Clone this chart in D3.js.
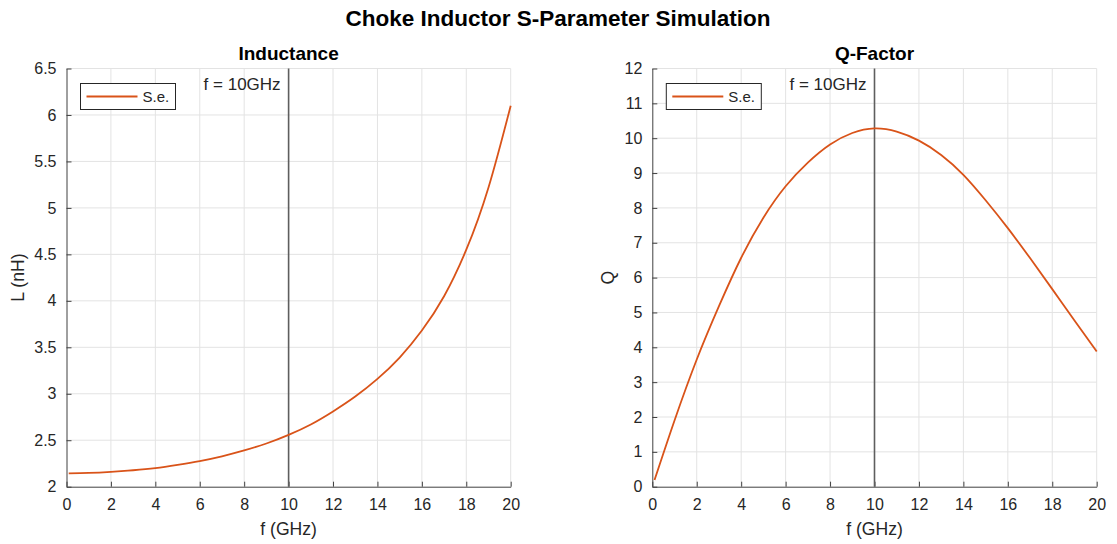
<!DOCTYPE html>
<html>
<head>
<meta charset="utf-8">
<script src="https://cdn.jsdelivr.net/npm/d3@7"></script>
<style>
  body { margin: 0; background: #fff; }
  svg { font-family: "Liberation Sans", Arial, Helvetica, sans-serif; }
  .tick text { fill: #262626; font-size: 16px; }
  .domain, .tick line { stroke: #404040; }
</style>
</head>
<body>
<div id="chart"></div>
<script>
// frequency points (GHz)
const freq = [0.1, 1, 2, 3, 4, 5, 6, 7, 8, 9, 10, 11, 12, 13, 14, 15, 16, 17, 18, 19, 20];
// inductance (nH)
const inductance = [2.143, 2.148, 2.16, 2.177, 2.2, 2.235, 2.276, 2.327, 2.39, 2.465, 2.558,
  2.67, 2.81, 2.97, 3.16, 3.39, 3.68, 4.05, 4.55, 5.22, 6.1];
// quality factor
const qFactor = [0.19, 1.9, 3.65, 5.18, 6.57, 7.72, 8.62, 9.3, 9.82, 10.15, 10.28,
  10.19, 9.93, 9.52, 8.95, 8.22, 7.42, 6.56, 5.67, 4.77, 3.88];

const xTicks = [0, 2, 4, 6, 8, 10, 12, 14, 16, 18, 20];
const lTicks = [2, 2.5, 3, 3.5, 4, 4.5, 5, 5.5, 6, 6.5];
const qTicks = [0, 1, 2, 3, 4, 5, 6, 7, 8, 9, 10, 11, 12];
const markerFreq = 10;
const seriesName = 'S.e.';

const W = 1117, H = 544;
const lineColor = '#d95319';
const textColor = '#262626';

const svg = d3.select('#chart').append('svg')
  .attr('width', W)
  .attr('height', H);

svg.append('text')
  .attr('x', 558)
  .attr('y', 26)
  .attr('text-anchor', 'middle')
  .style('font-size', '22.5px')
  .style('font-weight', 'bold')
  .style('fill', '#000')
  .text('Choke Inductor S-Parameter Simulation');

/**
* Draw one subplot: grid, axes, curve, marker line, legend
*/
const drawPanel = (cfg) => {
  const x = d3.scaleLinear().domain([0, 20]).range([cfg.left, cfg.right]);
  const y = d3.scaleLinear().domain(cfg.yDomain).range([486.7, 68.5]);
  const g = svg.append('g');

  // grid
  g.append('g').selectAll('line.vg')
    .data(xTicks.slice(1))
    .enter().append('line')
      .attr('x1', d => x(d)).attr('x2', d => x(d))
      .attr('y1', y.range()[0]).attr('y2', y.range()[1])
      .style('stroke', '#e3e3e3');
  g.append('g').selectAll('line.hg')
    .data(cfg.yTicks.slice(1))
    .enter().append('line')
      .attr('x1', x.range()[0]).attr('x2', x.range()[1])
      .attr('y1', d => y(d)).attr('y2', d => y(d))
      .style('stroke', '#e3e3e3');

  // axes, ticks pointing inward
  g.append('g')
    .attr('transform', `translate(0,${y.range()[0]})`)
    .call(d3.axisBottom(x).tickValues(xTicks).tickSize(-5).tickSizeOuter(0).tickPadding(12))
    .call(a => a.selectAll('text').attr('dy', '0.71em'));
  g.append('g')
    .attr('transform', `translate(${x.range()[0]},0)`)
    .call(d3.axisLeft(y).tickValues(cfg.yTicks).tickFormat(d3.format('')).tickSize(-5).tickSizeOuter(0).tickPadding(10));

  // marker line at 10 GHz
  g.append('line')
    .attr('x1', x(markerFreq)).attr('x2', x(markerFreq))
    .attr('y1', y.range()[0]).attr('y2', y.range()[1])
    .style('stroke', '#5e5e5e')
    .style('stroke-width', 1.6);
  g.append('text')
    .attr('x', x(markerFreq) - 8)
    .attr('y', 90)
    .attr('text-anchor', 'end')
    .style('font-size', '17px')
    .style('fill', textColor)
    .text(`f = ${markerFreq}GHz`);

  // curve
  const line = d3.line()
    .x((d, i) => x(freq[i]))
    .y(d => y(d))
    .curve(d3.curveNatural);
  g.append('path')
    .datum(cfg.values)
    .attr('d', line)
    .style('fill', 'none')
    .style('stroke', lineColor)
    .style('stroke-width', 1.8);

  // legend
  const lg = g.append('g').attr('transform', `translate(${x.range()[0] + 14},83.5)`);
  lg.append('rect')
    .attr('width', 95).attr('height', 26)
    .style('fill', '#fff')
    .style('stroke', '#262626');
  lg.append('line')
    .attr('x1', 6).attr('x2', 57).attr('y1', 13).attr('y2', 13)
    .style('stroke', lineColor).style('stroke-width', 1.8);
  lg.append('text')
    .attr('x', 62).attr('y', 18.5)
    .style('font-size', '15px')
    .style('fill', textColor)
    .text(seriesName);

  // titles
  const cx = (x.range()[0] + x.range()[1]) / 2;
  g.append('text')
    .attr('x', cx).attr('y', 60)
    .attr('text-anchor', 'middle')
    .style('font-size', '19px')
    .style('font-weight', 'bold')
    .style('fill', '#000')
    .text(cfg.title);
  g.append('text')
    .attr('x', cx).attr('y', 535)
    .attr('text-anchor', 'middle')
    .style('font-size', '17.6px')
    .style('fill', textColor)
    .text('f (GHz)');
  g.append('text')
    .attr('transform', `translate(${cfg.yLabelX},${(y.range()[0] + y.range()[1]) / 2}) rotate(-90)`)
    .attr('text-anchor', 'middle')
    .style('font-size', '17.6px')
    .style('fill', textColor)
    .text(cfg.yLabel);
};

drawPanel({ left: 66.5, right: 510.7, yDomain: [2, 6.5], yTicks: lTicks,
  values: inductance, title: 'Inductance', yLabel: 'L (nH)', yLabelX: 24 });
drawPanel({ left: 652.3, right: 1096.7, yDomain: [0, 12], yTicks: qTicks,
  values: qFactor, title: 'Q-Factor', yLabel: 'Q', yLabelX: 614 });
</script>
</body>
</html>
